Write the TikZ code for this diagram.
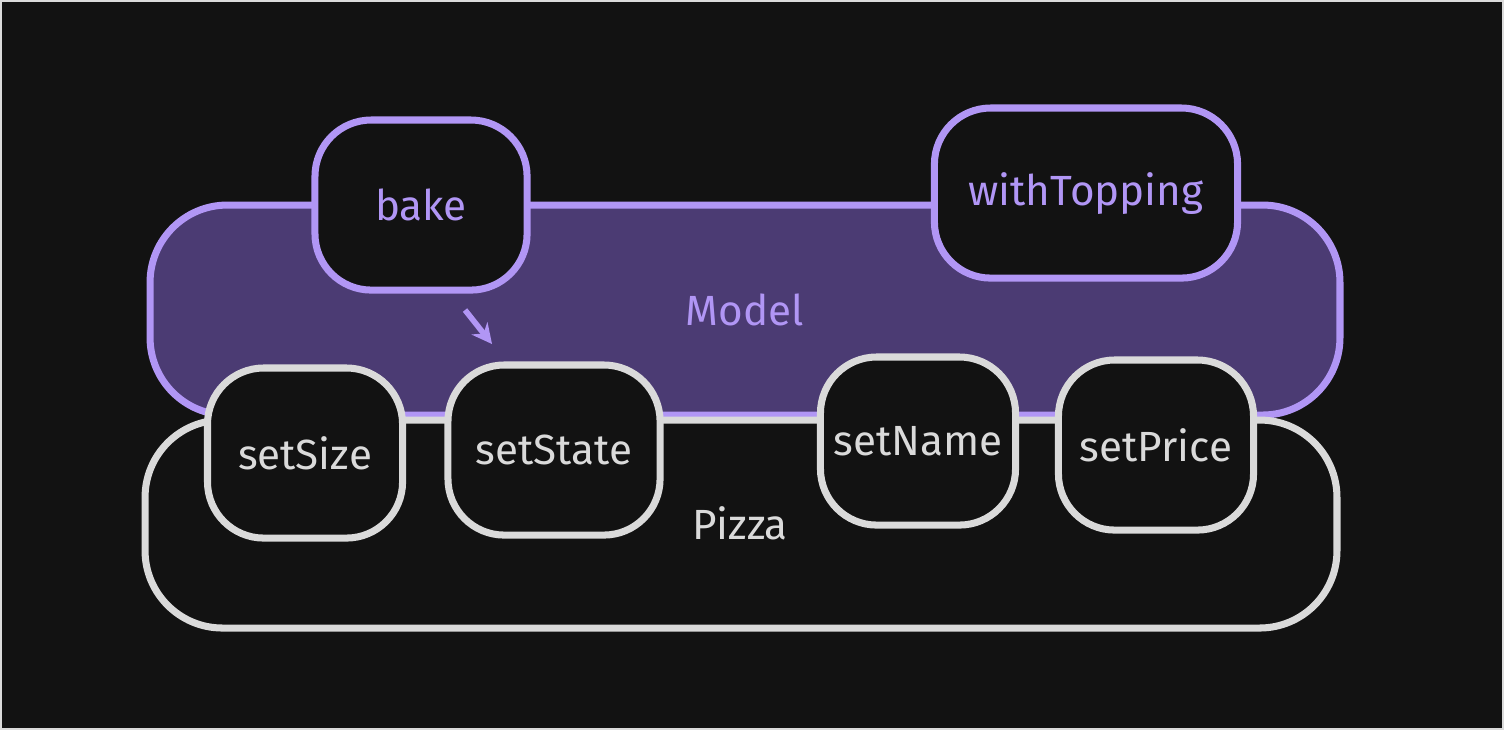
\documentclass[tikz,border=0pt]{standalone}
\usepackage{fontspec}
\setmainfont{Fira Sans}
\usetikzlibrary{
    positioning,  % For placing nodes
    arrows.meta   % For arrow tips
}
\definecolor{bgdark}{HTML}{121212}
\definecolor{violet}{HTML}{B196F5}
\definecolor{violetfill}{HTML}{4B3B73}
\definecolor{greyline}{HTML}{DADADA}

\begin{document}
\begin{tikzpicture}[
    x=0.01cm, y=-0.01cm,
    % Style for the big group boxes
    group_style/.style={
        line width=2pt, rounded corners=22pt
    },
    % Style for the method boxes
    method_style/.style={
        line width=2pt, rounded corners=16pt, fill=bgdark,
        font=\fontsize{12}{14}\selectfont, inner sep=0pt,
        minimum height=1.7cm
    },
    violet_style/.style={draw=violet, text=violet},
    grey_style/.style={draw=greyline, text=greyline},
    arrow_tip/.style={
        -{Stealth[length=2mm, width=2mm]}
    }
]
    % 1. Background and frame
    \fill[bgdark] (0,0) rectangle (1504,730);
    \draw[greyline, line width=0.6pt] (1,1) rectangle (1503,729);

    % 2. The two group boxes
    \draw[group_style, violet_style, fill=violetfill] (150,205) rectangle (1340,415);
    \draw[group_style, grey_style, fill=bgdark] (145,420) rectangle (1337,628);
    \node[text=violet, font=\fontsize{12}{14}\selectfont] (model) at (745,310) {Model};
    \node[text=greyline, font=\fontsize{12}{14}\selectfont] (pizza) at (740,523) {Pizza};

    % 3. Method boxes of Model
    \node[method_style, violet_style, minimum width=2.12cm] (bake) at (421,205) {bake};
    \node[method_style, violet_style, minimum width=3.03cm] (with_topping) at (1086,193) {withTopping};

    % 4. Method boxes of Pizza
    \node[method_style, grey_style, minimum width=1.95cm] (set_size) at (305,453) {setSize};
    \node[method_style, grey_style, minimum width=2.12cm] (set_state) at (554,450) {setState};
    \node[method_style, grey_style, minimum width=1.95cm, minimum height=1.68cm] (set_name) at (918,441) {setName};
    \node[method_style, grey_style, minimum width=1.95cm] (set_price) at (1156,445) {setPrice};

    % 5. Arrow from bake towards setState
    \coordinate (arrow_start) at (465,310);
    \coordinate (arrow_end) at (492,344);
    \draw[violet, line width=1.6pt, arrow_tip] (arrow_start) -- (arrow_end);
\end{tikzpicture}
\end{document}
